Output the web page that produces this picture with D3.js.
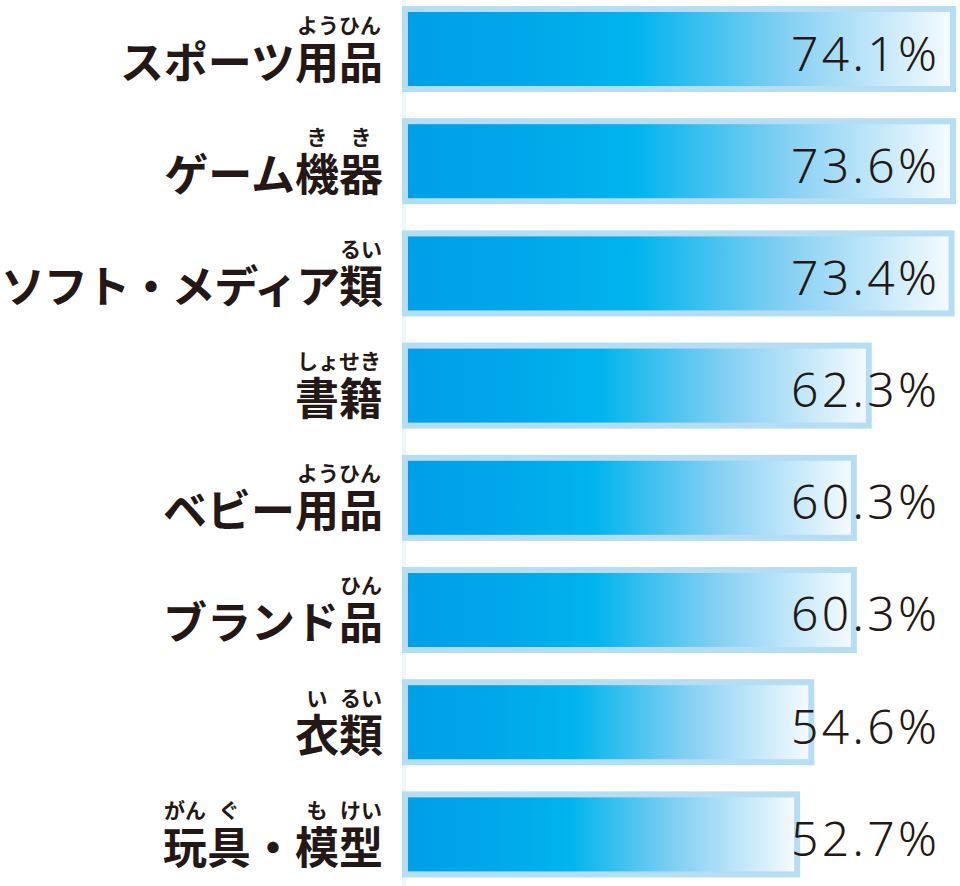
<!DOCTYPE html>
<html><head><meta charset="utf-8">
<script src="https://cdn.jsdelivr.net/npm/d3@7"></script>
<style>html,body{margin:0;padding:0;background:#fff;} svg{display:block;}</style>
</head><body>
<svg id="chart" width="960" height="886"></svg>
<script>
const categories = ["スポーツ用品", "ゲーム機器", "ソフト・メディア類", "書籍", "ベビー用品", "ブランド品", "衣類", "玩具・模型"];
const values = [74.1, 73.6, 73.4, 62.3, 60.3, 60.3, 54.6, 52.7];
const valueLabels = ["74.1%", "73.6%", "73.4%", "62.3%", "60.3%", "60.3%", "54.6%", "52.7%"];
// ruby (furigana): [first char index, last char index, reading]
const furigana = [
  [[4, 5, "ようひん"]],
  [[3, 3, "き"], [4, 4, "き"]],
  [[8, 8, "るい"]],
  [[0, 1, "しょせき"]],
  [[3, 4, "ようひん"]],
  [[4, 4, "ひん"]],
  [[0, 0, "い"], [1, 1, "るい"]],
  [[0, 0, "がん"], [1, 1, "ぐ"], [3, 3, "も"], [4, 4, "けい"]]
];

const svg = d3.select("#chart");
const ink = "#231815";

const x = d3.scaleLinear().domain([0, 100]).range([404, 1150]);
const y = d3.scaleBand().domain(categories).range([6, 877.4]).paddingInner(0.2335).paddingOuter(0);
const bw = y.bandwidth();

const defs = svg.append("defs");
const grad = defs.append("linearGradient").attr("id", "barGrad").attr("x1", 0).attr("x2", 1).attr("y1", 0).attr("y2", 0);
[[0, "#009fe8"], [0.2, "#00a6ea"], [0.42, "#00b4ed"], [0.7, "#86d0f3"], [1, "#f6fbff"]].forEach(([o, c]) =>
  grad.append("stop").attr("offset", o).attr("stop-color", c));

// faint axis line
svg.append("line").attr("x1", x(0)).attr("x2", x(0)).attr("y1", 0).attr("y2", 886)
  .attr("stroke", "#eef5fb").attr("stroke-width", 4);

const rows = svg.selectAll("g.row").data(categories).join("g").attr("class", "row");

rows.append("rect")
  .attr("x", x(0) + 1)
  .attr("y", d => y(d) + 3)
  .attr("width", (d, i) => Math.min(x(values[i]), 953) - x(0) - 1)
  .attr("height", bw - 6)
  .attr("fill", "url(#barGrad)")
  .attr("stroke", "#b5ddf3")
  .attr("stroke-width", 6);

rows.append("text")
  .attr("class", "val")
  .attr("x", 937)
  .attr("y", d => y(d) + bw / 2 + 21.5)
  .attr("text-anchor", "end")
  .attr("font-family", "'Noto Sans', sans-serif")
  .attr("font-weight", 300)
  .attr("font-size", 48)
  .attr("textLength", 146)
  .attr("lengthAdjust", "spacing")
  .attr("fill", ink)
  .text((d, i) => valueLabels[i]);

function drawLabels() {
  rows.each(function (d, i) {
    const g = d3.select(this);
    const base = y(d) + bw / 2 + 29.5;
    const t = g.append("text")
      .attr("class", "cat")
      .attr("x", 383)
      .attr("y", base)
      .attr("text-anchor", "end")
      .attr("font-family", "'Noto Sans CJK JP', sans-serif")
      .attr("font-weight", 700)
      .attr("font-size", 44)
      .attr("fill", ink)
      .text(d);
    const node = t.node();
    const bb = node.getBBox();
    if (bb.x < 0) {
      t.attr("textLength", 382).attr("lengthAdjust", "spacing");
    }
    furigana[i].forEach(([s, e, reading]) => {
      const x0 = node.getStartPositionOfChar(s).x;
      const x1 = node.getEndPositionOfChar(e).x;
      g.append("text")
        .attr("x", (x0 + x1) / 2)
        .attr("y", base - 46)
        .attr("text-anchor", "middle")
        .attr("font-family", "'Noto Sans CJK JP', sans-serif")
        .attr("font-weight", 700)
        .attr("font-size", 21)
        .attr("fill", ink)
        .text(reading);
    });
  });
}
if (document.fonts && document.fonts.ready) {
  document.fonts.ready.then(drawLabels);
} else {
  drawLabels();
}
</script>
</body></html>
